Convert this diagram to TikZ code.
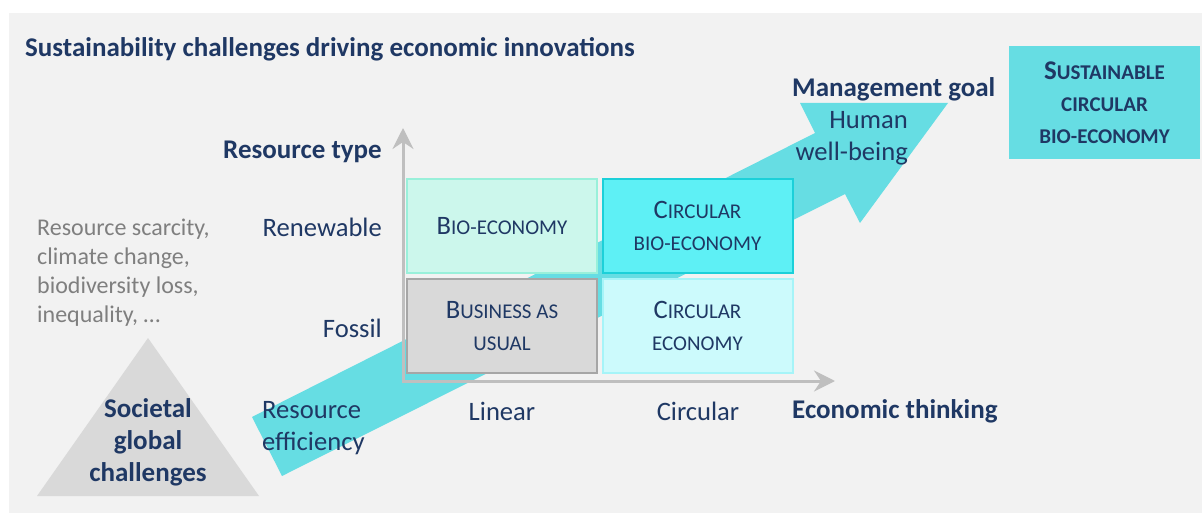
\documentclass[tikz,border=0pt]{standalone}
\usepackage{fontspec}
\setmainfont{Carlito}
\usetikzlibrary{arrows.meta,shapes}
\definecolor{navy}{HTML}{1F3864}
\definecolor{panel}{HTML}{F2F2F2}
\definecolor{greytext}{HTML}{7F7F7F}
\definecolor{flow}{HTML}{66DDE3}
\definecolor{axisgrey}{HTML}{BFBFBF}
\definecolor{biofill}{HTML}{CCF7EC}
\definecolor{bioline}{HTML}{99F0DA}
\definecolor{cbiofill}{HTML}{5EF0F5}
\definecolor{cbioline}{HTML}{1CD0D9}
\definecolor{baufill}{HTML}{D9D9D9}
\definecolor{bauline}{HTML}{A6A6A6}
\definecolor{cecofill}{HTML}{CCFAFC}
\definecolor{cecoline}{HTML}{A6F4F8}
\newcommand\sm[1]{{\fontsize{21}{24}\selectfont #1}}
\tikzstyle{txt}=[inner sep=0pt, text=navy, font=\fontsize{26.6}{32}\selectfont]
\tikzstyle{hdr}=[txt, font=\bfseries\fontsize{27}{32}\selectfont]
\tikzstyle{cell}=[rectangle, draw, line width=2pt, minimum width=190pt, minimum height=94pt, inner sep=0pt, text=navy, align=center, font=\fontsize{26.6}{32}\selectfont]
\tikzstyle{axis}=[draw=axisgrey, line width=3pt, {Stealth[length=21pt,width=21pt,inset=7pt]}-{Stealth[length=21pt,width=21pt,inset=7pt]}]

\begin{document}
\begin{tikzpicture}[x=1pt,y=-1pt]
    \useasboundingbox (0,0) rectangle (1202,513);
    \fill[white] (0,0) rectangle (1202,513);
    \fill[panel] (9,13) rectangle (1202,513);

    \fill[baufill] (148,338) -- (259,496) -- (37,496) -- cycle;
    \fill[flow] (252,417) -- (815,133) -- (800,103) -- (948,103) -- (860,223) -- (845,194) -- (282,476) -- cycle;

    \coordinate (origin) at (403,381);
    \coordinate (ytop) at (403,128);
    \coordinate (xend) at (835,381);
    \path[axis] (ytop) -- (origin) -- (xend);

    \node[cell, fill=biofill, draw=bioline] (bio) at (502,226) {B\sm{IO-ECONOMY}};
    \node[cell, fill=cbiofill, draw=cbioline] (cbio) at (697.5,226) {C\sm{IRCULAR}\\\sm{BIO-ECONOMY}};
    \node[cell, fill=baufill, draw=bauline] (bau) at (502,326) {B\sm{USINESS AS}\\\sm{USUAL}};
    \node[cell, fill=cecofill, draw=cecoline] (ceco) at (697.5,326) {C\sm{IRCULAR}\\\sm{ECONOMY}};

    \node[hdr, anchor=west] (title) at (25,49) {Sustainability challenges driving economic innovations};
    \node[hdr, anchor=east] (restype) at (382,152) {Resource type};
    \node[txt, anchor=east] (renew) at (382,227) {Renewable};
    \node[txt, anchor=east] (fossil) at (382,328) {Fossil};
    \node[txt, anchor=west, align=left] (effic) at (262,428) {Resource\\efficiency};
    \node[txt] (linear) at (502,411) {Linear};
    \node[txt] (circ) at (698,411) {Circular};
    \node[hdr, anchor=west] (econ) at (792,411) {Economic thinking};
    \node[hdr, anchor=west] (goal) at (792,89) {Management goal};
    \node[txt, anchor=east, align=right] (wellbeing) at (908,138) {Human\\well-being};
    \node[rectangle, fill=flow, minimum width=191pt, minimum height=113pt, inner sep=0pt, text=navy, align=center, font=\bfseries\fontsize{27}{32}\selectfont] (scbe) at (1104.5,102.5) {\raisebox{-2pt}{S\sm{USTAINABLE}}\\\raisebox{-2pt}{\sm{CIRCULAR}}\\\raisebox{-2pt}{\sm{BIO-ECONOMY}}};
    \node[inner sep=0pt, text=greytext, anchor=west, align=left, font=\fontsize{24}{29}\selectfont] (issues) at (37,273) {Resource scarcity,\\climate change,\\biodiversity loss,\\inequality, \dots};
    \node[hdr, align=center] (societal) at (148,442) {Societal\\global\\challenges};
\end{tikzpicture}
\end{document}
